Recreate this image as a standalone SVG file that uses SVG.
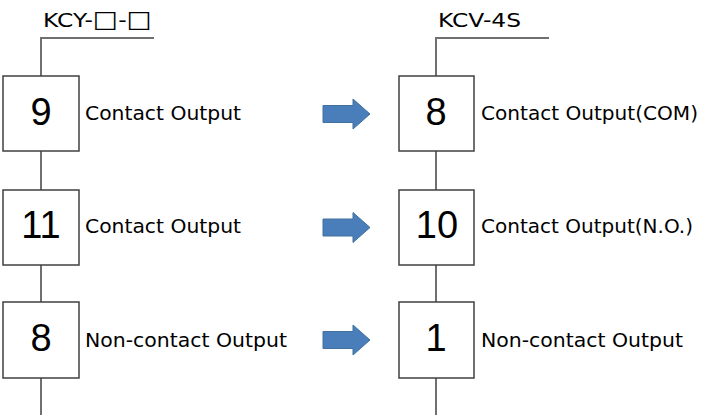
<svg xmlns="http://www.w3.org/2000/svg" width="715" height="417" viewBox="0 0 715 417">
<style>
.box{fill:#fff;stroke:#404040;stroke-width:1.5}
.wire{fill:none;stroke:#707070;stroke-width:2}
.num{font-family:"Liberation Sans",Arial,sans-serif;font-size:38px;fill:#000;text-anchor:middle}
.lbl{font-family:"DejaVu Sans","Noto Sans",sans-serif;font-size:20px;fill:#000}
.sq{font-size:23px}
.arr{fill:#4a7ebb;stroke:#41719c;stroke-width:1}
</style>
<rect width="715" height="417" fill="#fff"/>
<g id="connectors">
<path class="wire" d="M154 38H41V76M41 151V190M41 265V302M41 378V415"/>
<path class="wire" d="M549 38H436V76M436 151V190M436 265V302M436 378V415"/>
</g>
<g id="title-left"><text class="lbl" x="43" y="27" textLength="109" lengthAdjust="spacingAndGlyphs">KCY-<tspan class="sq">□</tspan>-<tspan class="sq">□</tspan></text></g>
<g id="title-right"><text class="lbl" x="438" y="27" textLength="83" lengthAdjust="spacingAndGlyphs">KCV-4S</text></g>
<g id="left-9"><rect class="box" x="3" y="76" width="76" height="75"/><text class="num" x="41" y="125">9</text><text class="lbl" x="85" y="120" textLength="156" lengthAdjust="spacingAndGlyphs">Contact Output</text></g>
<g id="left-11"><rect class="box" x="3" y="190" width="76" height="75"/><text class="num" x="41" y="238">11</text><text class="lbl" x="85" y="233" textLength="156" lengthAdjust="spacingAndGlyphs">Contact Output</text></g>
<g id="left-8"><rect class="box" x="3" y="302" width="76" height="76"/><text class="num" x="41" y="351">8</text><text class="lbl" x="85" y="347" textLength="202" lengthAdjust="spacingAndGlyphs">Non-contact Output</text></g>
<g id="right-8"><rect class="box" x="399" y="76" width="75" height="75"/><text class="num" x="436" y="125">8</text><text class="lbl" x="481" y="120" textLength="217" lengthAdjust="spacingAndGlyphs">Contact Output(COM)</text></g>
<g id="right-10"><rect class="box" x="399" y="190" width="75" height="75"/><text class="num" x="437" y="238">10</text><text class="lbl" x="481" y="233" textLength="212" lengthAdjust="spacingAndGlyphs">Contact Output(N.O.)</text></g>
<g id="right-1"><rect class="box" x="399" y="302" width="75" height="76"/><text class="num" x="436" y="351">1</text><text class="lbl" x="481" y="347" textLength="202" lengthAdjust="spacingAndGlyphs">Non-contact Output</text></g>
<g id="arrows">
<path class="arr" d="M323 105.5H353V99L370 114L353 129V122.5H323Z"/>
<path class="arr" d="M323 219H353V212.5L370 227.5L353 242.5V236H323Z"/>
<path class="arr" d="M323 331.5H353V325L370 340L353 355V348.5H323Z"/>
</g>
</svg>
